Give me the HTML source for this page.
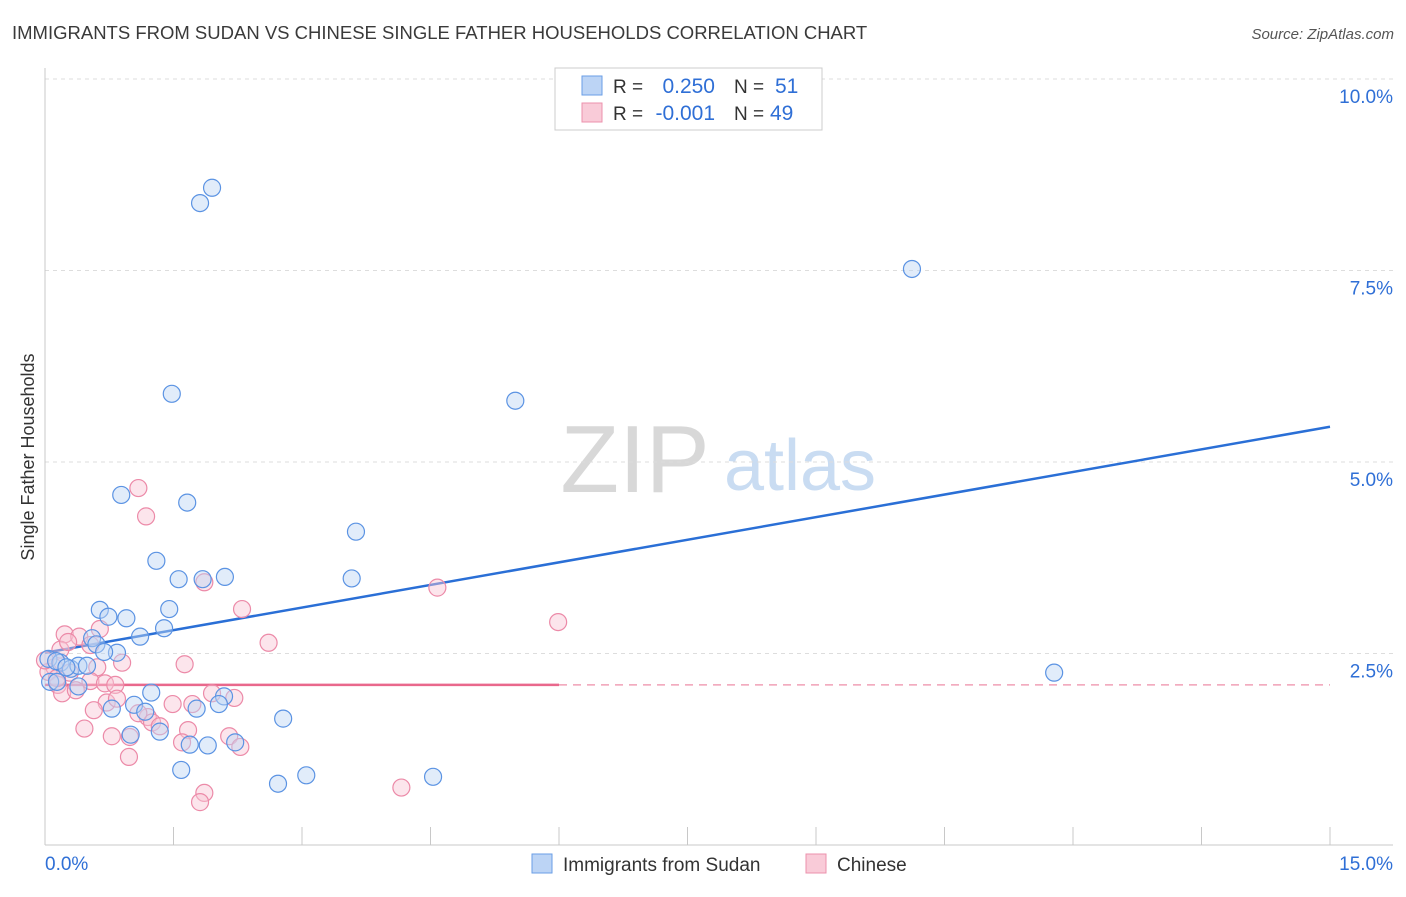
<!DOCTYPE html>
<html><head><meta charset="utf-8">
<style>
body{margin:0;background:#fff;font-family:"Liberation Sans",sans-serif;}
svg text{font-family:"Liberation Sans",sans-serif;}
</style></head>
<body>
<svg id="chart" width="1406" height="892" viewBox="0 0 1406 892" xmlns="http://www.w3.org/2000/svg">
<text x="12" y="39" font-size="18.5" fill="#3a3a3a">IMMIGRANTS FROM SUDAN VS CHINESE SINGLE FATHER HOUSEHOLDS CORRELATION CHART</text>
<text x="1394" y="39" font-size="15" fill="#555" font-style="italic" text-anchor="end">Source: ZipAtlas.com</text>
<g>
<text x="635" y="492" font-size="96" fill="#d8d8d8" font-family="Liberation Serif" text-anchor="middle">ZIP</text>
<text x="800" y="490" font-size="72" fill="#c9dcf2" text-anchor="middle">atlas</text>
</g>
<g id="grid"></g>
<g id="axes"></g>
<g id="trend"></g>
<g id="points"></g>
<text transform="translate(34,457) rotate(-90)" font-size="18" fill="#333" text-anchor="middle">Single Father Households</text>
<g>
<rect x="555" y="68" width="267" height="62" fill="#fff" stroke="#ccc"/>
<rect x="582" y="76" width="20" height="19" fill="#bcd4f5" stroke="#6a9ee6"/>
<rect x="582" y="103" width="20" height="19" fill="#f9cbd8" stroke="#ec92ac"/>
<text x="613" y="93" font-size="19" fill="#333">R = </text>
<text x="715" y="93" font-size="21" fill="#2f6fd6" text-anchor="end">0.250</text>
<text x="734" y="93" font-size="19" fill="#333">N = </text>
<text x="775" y="93" font-size="21" fill="#2f6fd6">51</text>
<text x="613" y="120" font-size="19" fill="#333">R = </text>
<text x="715" y="120" font-size="21" fill="#2f6fd6" text-anchor="end">-0.001</text>
<text x="734" y="120" font-size="19" fill="#333">N = </text>
<text x="770" y="120" font-size="21" fill="#2f6fd6">49</text>
</g>
<g>
<rect x="532" y="854" width="20" height="19" fill="#bcd4f5" stroke="#6a9ee6"/>
<text x="563" y="871" font-size="19" fill="#333">Immigrants from Sudan</text>
<rect x="806" y="854" width="20" height="19" fill="#f9cbd8" stroke="#ec92ac"/>
<text x="837" y="871" font-size="19" fill="#333">Chinese</text>
</g>
</svg>
<script>
const yTicks=[2.5,5.0,7.5,10.0];
const yTickLabels=["2.5%","5.0%","7.5%","10.0%"];
const xTicks=[0,1.5,3,4.5,6,7.5,9,10.5,12,13.5,15];
const xEndLabels=["0.0%","15.0%"];
const sudanX=[1.81,1.95,10.12,1.48,5.49,0.89,1.66,3.63,1.30,1.56,1.84,2.10,3.58,0.64,1.45,0.74,0.95,1.39,1.11,0.55,0.60,0.84,0.69,0.04,0.18,0.30,0.39,0.49,0.13,0.06,0.14,0.39,11.78,1.24,2.09,2.03,1.04,1.17,0.78,1.77,2.78,1.00,1.34,1.69,1.90,2.22,1.59,3.05,2.72,4.53,0.25];
const sudanY=[8.38,8.58,7.52,5.89,5.80,4.57,4.47,4.09,3.71,3.47,3.47,3.50,3.48,3.07,3.08,2.98,2.96,2.83,2.72,2.70,2.62,2.51,2.52,2.43,2.38,2.30,2.34,2.34,2.40,2.13,2.13,2.07,2.25,1.99,1.94,1.84,1.83,1.74,1.78,1.78,1.65,1.44,1.48,1.31,1.30,1.34,0.98,0.91,0.80,0.89,2.32];
const chineseX=[1.09,1.18,4.58,1.86,2.30,5.99,0.64,2.61,0.23,0.40,0.53,0.18,1.63,0.90,0.61,0.29,0.11,0.04,0.15,0.53,0.70,0.82,0.20,0.36,1.95,2.21,0.72,1.49,1.72,0.57,1.20,1.25,1.09,1.34,1.67,0.46,0.78,0.99,2.15,1.60,2.28,0.98,1.86,1.81,4.16,0,0.27,0.84,0.14];
const chineseY=[4.66,4.29,3.36,3.43,3.08,2.91,2.82,2.64,2.75,2.72,2.61,2.55,2.36,2.38,2.32,2.25,2.32,2.26,2.09,2.14,2.11,2.09,1.98,2.02,1.98,1.92,1.86,1.84,1.84,1.76,1.67,1.60,1.72,1.55,1.50,1.52,1.42,1.41,1.42,1.34,1.28,1.15,0.68,0.56,0.75,2.41,2.65,1.91,2.18];
const sudanTrend=[2.51,5.46];
const chineseTrend=[2.09,2.09];
const NS="http://www.w3.org/2000/svg";
const X0=45,X1=1330,Y0=845,Y10=79;
function xs(v){return X0+(v-0)/15*(X1-X0);}
function ys(v){return Y0-(v/10)*(Y0-Y10);}
function mk(tag,attrs,parent){const e=document.createElementNS(NS,tag);for(const k in attrs)e.setAttribute(k,attrs[k]);parent.appendChild(e);return e;}
const grid=document.getElementById('grid'),axes=document.getElementById('axes'),trend=document.getElementById('trend'),pts=document.getElementById('points');
yTicks.forEach((t,i)=>{
 const l=mk('line',{x1:X0,x2:1393,y1:ys(t),y2:ys(t),stroke:'#ddd','stroke-dasharray':'4,4'},grid);
 
 
 const tx=mk('text',{x:1393,y:ys(t)+24,'font-size':19,fill:'#2f6fd6','text-anchor':'end'},axes);
 tx.textContent=yTickLabels[i];
 
 
});
const ya=mk('line',{x1:X0,x2:X0,y1:68,y2:Y0,stroke:'#c8c8c8'},axes);


const xa=mk('line',{x1:X0,x2:1393,y1:Y0,y2:Y0,stroke:'#c8c8c8'},axes);


xTicks.forEach(t=>{
 const l=mk('line',{x1:xs(t),x2:xs(t),y1:Y0,y2:Y0-18,stroke:'#c8c8c8'},axes);
 
 
});
const xl0=mk('text',{x:45,y:870,'font-size':19,fill:'#2f6fd6'},axes);xl0.textContent=xEndLabels[0];


const xl1=mk('text',{x:1393,y:870,'font-size':19,fill:'#2f6fd6','text-anchor':'end'},axes);xl1.textContent=xEndLabels[1];


function dot(x,y,fill,stroke,name){
 const c=mk('circle',{cx:xs(x),cy:ys(y),r:8.5,fill:fill,'fill-opacity':0.45,stroke:stroke,'stroke-width':1.2},pts);
 
 
}
chineseX.forEach((x,i)=>dot(x,chineseY[i],'#f9c6d4','#ec8aa8','chinese-point'));
sudanX.forEach((x,i)=>dot(x,sudanY[i],'#bcd4f5','#5b93e3','sudan-point'));
const bt=mk('line',{x1:xs(0),y1:ys(sudanTrend[0]),x2:xs(15),y2:ys(sudanTrend[1]),stroke:'#2a6fd6','stroke-width':2.5},trend);


const pm=chineseTrend[0]+(chineseTrend[1]-chineseTrend[0])*6/15;
const pt=mk('line',{x1:xs(0),y1:ys(chineseTrend[0]),x2:xs(6),y2:ys(pm),stroke:'#e9688c','stroke-width':2.5},trend);


const pd=mk('line',{x1:xs(6),y1:ys(pm),x2:xs(15),y2:ys(chineseTrend[1]),stroke:'#f0a0b6','stroke-width':1.5,'stroke-dasharray':'8,6'},trend);


</script>
</body></html>
